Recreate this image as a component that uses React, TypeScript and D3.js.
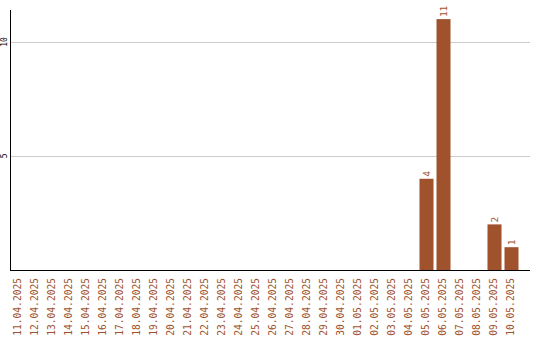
import React from "react";
import * as d3 from "d3";

const dates = [
  "11.04.2025", "12.04.2025", "13.04.2025", "14.04.2025", "15.04.2025",
  "16.04.2025", "17.04.2025", "18.04.2025", "19.04.2025", "20.04.2025",
  "21.04.2025", "22.04.2025", "23.04.2025", "24.04.2025", "25.04.2025",
  "26.04.2025", "27.04.2025", "28.04.2025", "29.04.2025", "30.04.2025",
  "01.05.2025", "02.05.2025", "03.05.2025", "04.05.2025", "05.05.2025",
  "06.05.2025", "07.05.2025", "08.05.2025", "09.05.2025", "10.05.2025",
];
const counts = [
  0, 0, 0, 0, 0, 0, 0, 0, 0, 0,
  0, 0, 0, 0, 0, 0, 0, 0, 0, 0,
  0, 0, 0, 0, 4, 11, 0, 0, 2, 1,
];
const yTicks = [5, 10];

const W = 540;
const H = 340;
const left = 10;
const right = 530;
const top = 10;
const bottom = 270;
const color = "#a0522d";
const mono = "'DejaVu Sans Mono', monospace";

export default function App() {
  const x = d3.scaleBand<string>().domain(dates).range([left, left + 17 * dates.length]).paddingInner(3 / 17).paddingOuter(1.5 / 17);
  const y = d3.scaleLinear().domain([0, 11.4]).range([bottom, top]);

  return (
    <svg width={W} height={H} style={{ position: "absolute", left: 0, top: 0 }}>
      <rect width={W} height={H} fill="#fff" />
      {yTicks.map((t) => (
        <g key={t}>
          <line x1={left} x2={right} y1={Math.round(y(t)) + 0.5} y2={Math.round(y(t)) + 0.5} stroke="#ccc" />
          <text
            transform={`translate(7,${y(t)}) rotate(-90)`}
            textAnchor="middle"
            fontFamily={mono}
            fontSize={8}
            fill="#000"
          >
            {t}
          </text>
        </g>
      ))}
      {dates.map((d, i) => {
        const v = counts[i];
        const bx = x(d)!;
        const bw = x.bandwidth();
        const cx = bx + bw / 2;
        return (
          <g key={d}>
            {v > 0 && (
              <>
                <rect x={bx} y={y(v)} width={bw} height={bottom - y(v)} fill={color} />
                <text
                  transform={`translate(${cx + 3.5},${y(v) - 2}) rotate(-90)`}
                  textAnchor="start"
                  fontFamily={mono}
                  fontSize={9.5}
                  fill={color}
                >
                  {v}
                </text>
              </>
            )}
            <text
              transform={`translate(${cx + 2},${bottom + 8}) rotate(-90)`}
              textAnchor="end"
              fontFamily={mono}
              fontSize={9.6}
              fill={color}
            >
              {d}
            </text>
          </g>
        );
      })}
      <line x1={left + 0.5} x2={left + 0.5} y1={top} y2={bottom} stroke="#000" />
      <line x1={left} x2={right} y1={bottom + 0.5} y2={bottom + 0.5} stroke="#000" />
    </svg>
  );
}
